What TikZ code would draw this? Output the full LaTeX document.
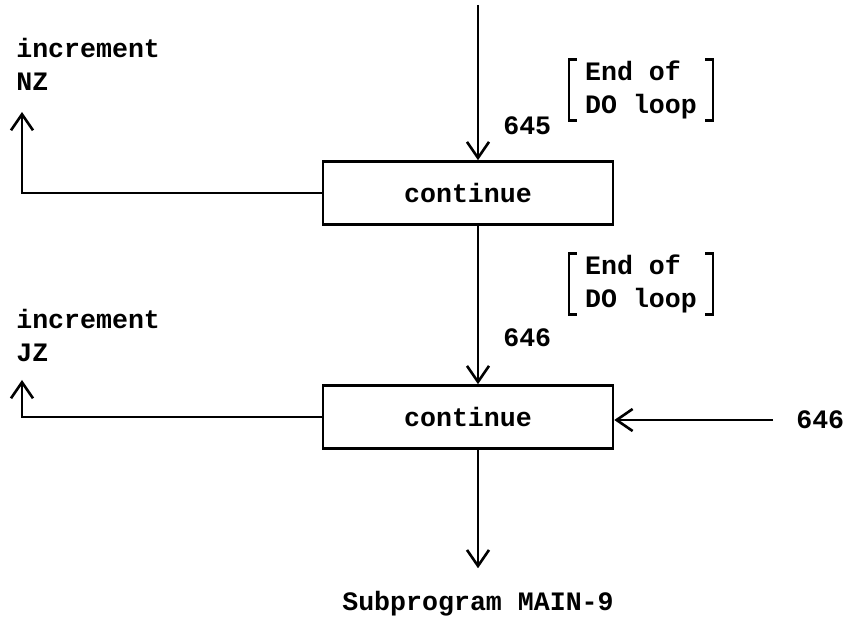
\documentclass[tikz,border=0pt]{standalone}
\usepackage{fontspec}
\setmonofont{Liberation Mono}
\usetikzlibrary{arrows.meta,calc,positioning}

\begin{document}
\begin{tikzpicture}[x=0.5pt,y=-0.5pt,line width=1.3pt,
  >={Straight Barb[length=8pt,width=11pt]},
  lbl/.style={font=\ttfamily\bfseries\fontsize{13.3}{16.5}\selectfont,inner sep=0pt},
  box/.style={lbl,draw,minimum width=145pt,minimum height=31.5pt},
  dobox/.style={lbl,align=left,inner xsep=7.5pt,inner ysep=0pt},
  brk/.style={line width=1.2pt}]
\useasboundingbox (0,0) rectangle (847,620);
% the two continue statements
\node[box] (b1) at (468,193) {continue};
\node[box] (b2) at (468,417) {continue};
\node[lbl] (sub) at (478,604) {Subprogram MAIN-9};
\coordinate (top) at (478,5);
\coordinate (nz) at (22,112);
\coordinate (jz) at (22,380);
% main flow
\draw[->] (top) -- (top |- b1.north);
\draw[->] (top |- b1.south) -- (top |- b2.north);
\draw[->,shorten >=11pt] (top |- b2.south) -- (top |- sub.north);
% statement numbers
\node[lbl,anchor=west] (n645) at (502,126) {645};
\node[lbl,anchor=west] (n646) at (502,338) {646};
\node[lbl,anchor=west] (r646) at (795,420) {646};
\draw[->,shorten <=11pt] (r646.west) -- (r646.west -| b2.east);
% end of DO loop remarks
\node[dobox] (e1) at (641,90) {End of\\DO loop};
\node[dobox] (e2) at (641,284) {End of\\DO loop};
\foreach \e in {e1,e2}{
  \draw[brk] ([xshift=4pt]\e.north west) -| (\e.south west) -- ++(8,0);
  \draw[brk] ([xshift=-4pt]\e.north east) -| (\e.south east) -- ++(-8,0);
}
% loop increments
\draw[->] (b1.west) -| (nz);
\draw[->] (b2.west) -| (jz);
\node[lbl,align=left,anchor=north west] (incnz) at (15,37) {increment\\NZ};
\node[lbl,align=left,anchor=north west] (incjz) at (15,308) {increment\\JZ};
\end{tikzpicture}
\end{document}
